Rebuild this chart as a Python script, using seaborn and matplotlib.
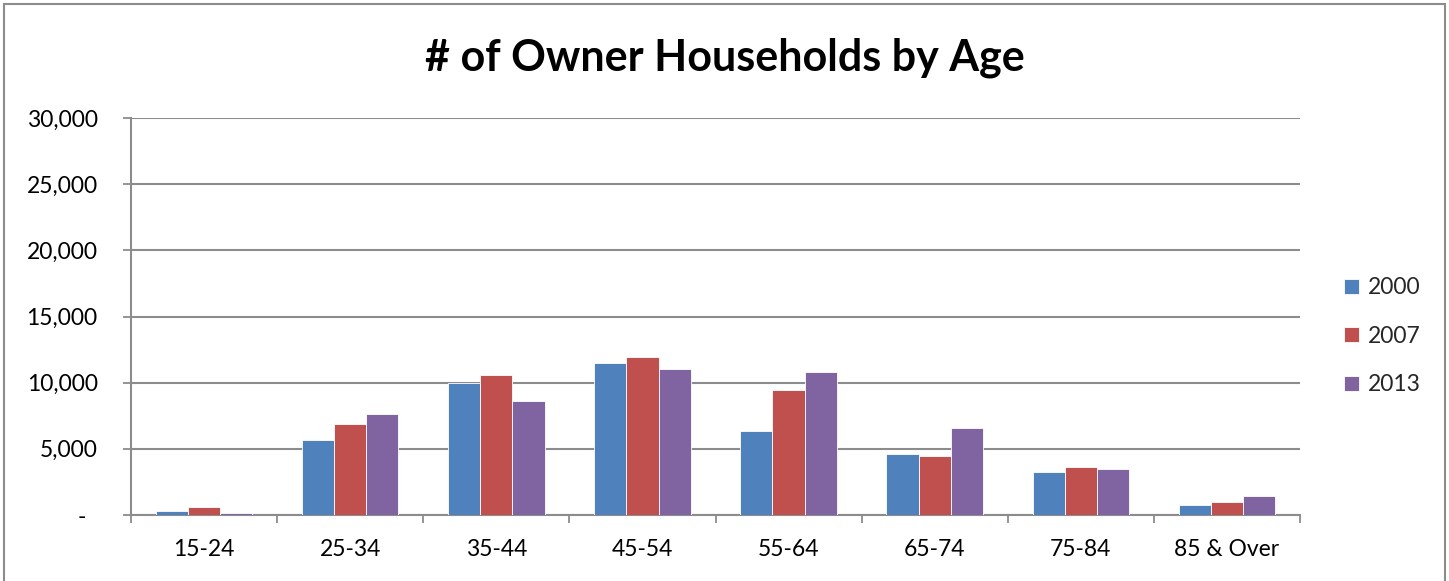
import matplotlib
matplotlib.use("Agg")
import matplotlib.pyplot as plt
import matplotlib.ticker as mticker
from matplotlib.patches import Rectangle
import seaborn as sns
import pandas as pd

age_groups = ["15-24", "25-34", "35-44", "45-54", "55-64", "65-74", "75-84", "85 & Over"]
years = ["2000", "2007", "2013"]
households_2000 = [300, 5660, 10000, 11470, 6330, 4590, 3230, 730]
households_2007 = [630, 6870, 10580, 11920, 9420, 4460, 3610, 960]
households_2013 = [130, 7650, 8640, 11010, 10830, 6600, 3450, 1410]
colors = ["#4F81BD", "#C0504D", "#8064A2"]

df = pd.DataFrame({
    "Age": age_groups * 3,
    "Year": [years[0]] * 8 + [years[1]] * 8 + [years[2]] * 8,
    "Households": households_2000 + households_2007 + households_2013,
})

sns.set_theme(style="white")
plt.rcParams["font.family"] = ["Lato", "DejaVu Sans"]

fig = plt.figure(figsize=(14.49, 5.81), dpi=100)
ax = fig.add_axes([131 / 1449, 1 - 515 / 581, 1169 / 1449, 397 / 581])

sns.barplot(data=df, x="Age", y="Households", hue="Year", palette=colors,
            width=0.66, gap=0, ax=ax, edgecolor="white", linewidth=0.6,
            saturation=1, zorder=3)

grid_color = "#8c8c8c"
ax.set_ylim(0, 30000)
ax.set_xlim(-0.5, len(age_groups) - 0.5)
ax.yaxis.set_major_locator(mticker.MultipleLocator(5000))
ax.yaxis.set_major_formatter(mticker.FuncFormatter(
    lambda v, p: "-  " if v == 0 else f"{int(v):,}"))
ax.yaxis.grid(True, color=grid_color, linewidth=1.5, zorder=0)
ax.set_axisbelow(True)

# category boundaries carry the tick marks, labels sit in between
ax.set_xticks([i - 0.5 for i in range(len(age_groups) + 1)])
ax.set_xticklabels([])
ax.set_xticks(range(len(age_groups)), minor=True)
ax.set_xticklabels(age_groups, minor=True)
ax.tick_params(axis="x", which="major", length=6, width=1.3, color=grid_color,
               direction="out", bottom=True)
ax.tick_params(axis="x", which="minor", length=0, pad=17, labelsize=16.5,
               labelcolor="black")
ax.tick_params(axis="y", length=6, width=1.3, color=grid_color, direction="out",
               left=True, pad=18, labelsize=16.5, labelcolor="black")

for side in ["top", "right"]:
    ax.spines[side].set_visible(False)
for side in ["left", "bottom"]:
    ax.spines[side].set_color(grid_color)
    ax.spines[side].set_linewidth(1.5)

ax.set_xlabel("")
ax.set_ylabel("")

leg = ax.legend(loc="center left", bbox_to_anchor=(1.03, 0.45), frameon=False,
                fontsize=16.5, handlelength=0.65, handleheight=0.65,
                handletextpad=0.4, labelspacing=1.2, borderaxespad=0)

fig.text(0.5, 1 - 58 / 581, "# of Owner Households by Age", ha="center",
         va="center", fontsize=31, fontweight="bold", color="black")

fig.patches.append(Rectangle((4 / 1449, -0.02), 1441 / 1449, 1.0 - 4 / 581 + 0.02,
                             transform=fig.transFigure, fill=False,
                             edgecolor="#8c8c8c", linewidth=1.5))

fig.savefig("out.png", dpi=100)
